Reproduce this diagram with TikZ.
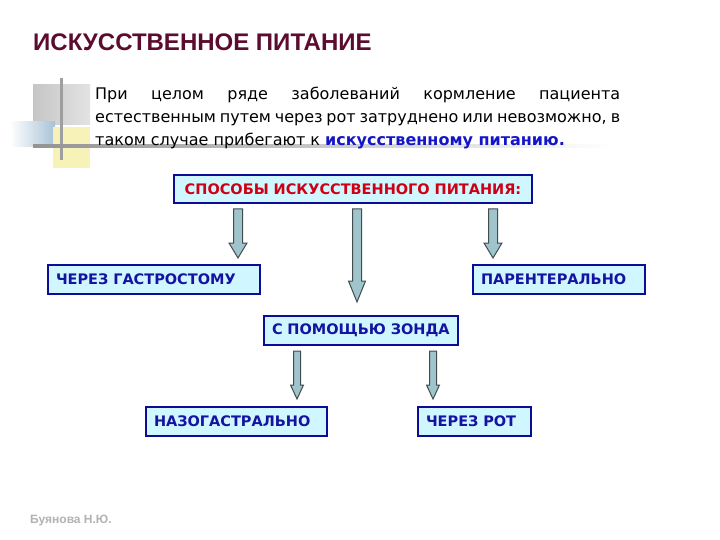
\documentclass[tikz,border=0pt]{standalone}
\usepackage{fontspec}
\setmainfont{Liberation Sans}
\newfontfamily\boxfont{DejaVu Sans}
\usetikzlibrary{calc}

\definecolor{titlered}{RGB}{92,12,46}
\definecolor{introblue}{RGB}{20,20,200}
\definecolor{waysred}{RGB}{205,0,20}
\definecolor{boxtext}{RGB}{20,20,160}
\definecolor{boxline}{RGB}{12,12,150}
\definecolor{boxfill}{RGB}{208,246,255}
\definecolor{arrfill}{RGB}{160,196,204}
\definecolor{arrline}{RGB}{65,75,80}
\definecolor{decoblue}{RGB}{168,194,214}
\definecolor{decoyellow}{RGB}{246,242,184}

\begin{document}
\begin{tikzpicture}[x=1pt, y=-1pt,
  %% ── Node styles ──────────────────────────────────────────────────────────
  %% box : fixed size via text width, text left, 2pt blue frame
  box/.style={draw=boxline, fill=boxfill, line width=2pt, anchor=north west,
              minimum height=29pt, inner xsep=8pt, inner ysep=0pt,
              text width=#1, align=left, text=boxtext,
              font=\boxfont\bfseries\fontsize{14.5}{16}\selectfont},
  waysbox/.style={box=#1, align=center, text=waysred, minimum height=28pt},
  %% ── Arrow styles ─────────────────────────────────────────────────────────
  %% blockarr={shaft half}{head half}{head length}{gap at tip}
  blockarr/.style n args={4}{draw=arrline, fill=arrfill, line width=1pt,
    line join=miter,
    to path={let \p1=(\tikztostart), \p2=(\tikztotarget) in
      (\x1-#1,\y1-5pt) -- (\x1-#1,\y2+#4+#3) -- (\x1-#2,\y2+#4+#3)
      -- (\x1,\y2+#4) -- (\x1+#2,\y2+#4+#3) -- (\x1+#1,\y2+#4+#3)
      -- (\x1+#1,\y1-5pt) -- cycle}}
]

\fill[white] (0,0) rectangle (720,540);
\useasboundingbox (0,0) rectangle (720,540);

%% ── Corner ornament ─────────────────────────────────────────────────────────
\shade[left color=gray!45, right color=gray!22] (33,85) rectangle (90,125);
\shade[left color=white, right color=decoblue] (10,122) rectangle (55,147);
\fill[decoyellow] (53,127) rectangle (90,168);
\fill[gray!75] (60,78) rectangle (62.5,160);
\shade[left color=gray!85, right color=white] (33,145) rectangle (612,147.5);

%% ── Heading and intro text ──────────────────────────────────────────────────
\node[anchor=base west, inner sep=0pt, text=titlered,
      font=\bfseries\fontsize{24}{24}\selectfont] (title) at (33,51)
      {ИСКУССТВЕННОЕ ПИТАНИЕ};
\node[anchor=north west, inner sep=0pt, text width=525pt, align=justify,
      font=\boxfont\fontsize{16}{23}\selectfont] (intro) at (95,87)
      {При целом ряде заболеваний кормление пациента\linebreak
       естественным путем через рот затруднено или невозможно, в\linebreak
       таком случае прибегают к {\bfseries\color{introblue}искусственному питанию.}};

%% ── Boxes ───────────────────────────────────────────────────────────────────
\node[waysbox=342pt] (ways)   at (173,174) {СПОСОБЫ ИСКУССТВЕННОГО ПИТАНИЯ:};
\node[box=196pt]     (gastro) at (47,264)  {ЧЕРЕЗ ГАСТРОСТОМУ};
\node[box=156pt]     (parent) at (472,264) {ПАРЕНТЕРАЛЬНО};
\node[box=178pt]     (probe)  at (263,315) {С ПОМОЩЬЮ ЗОНДА};
\node[box=165pt]     (naso)   at (145,406) {НАЗОГАСТРАЛЬНО};
\node[box=97pt]      (mouth)  at (417,406) {ЧЕРЕЗ РОТ};

%% ── Arrow columns ───────────────────────────────────────────────────────────
\coordinate (a1) at (238,0);
\coordinate (a2) at (357,0);
\coordinate (a3) at (493,0);
\coordinate (a4) at (297,0);
\coordinate (a5) at (433,0);

%% ── Arrows: ways → methods ──────────────────────────────────────────────────
\path[blockarr={4.5pt}{9pt}{15pt}{6pt}]    (ways.south -| a1) to (gastro.north -| a1);
\path[blockarr={4.5pt}{8.5pt}{21pt}{13pt}] (ways.south -| a2) to (probe.north -| a2);
\path[blockarr={4.5pt}{9pt}{15pt}{6pt}]    (ways.south -| a3) to (parent.north -| a3);

%% ── Arrows: probe → variants ────────────────────────────────────────────────
\path[blockarr={3.5pt}{6.5pt}{14pt}{7pt}]  (probe.south -| a4) to (naso.north -| a4);
\path[blockarr={3.5pt}{6.5pt}{14pt}{7pt}]  (probe.south -| a5) to (mouth.north -| a5);

%% ── Author ──────────────────────────────────────────────────────────────────
\node[anchor=base west, inner sep=0pt, text=gray!60,
      font=\bfseries\fontsize{12}{12}\selectfont] (author) at (30,523)
      {Буянова Н.Ю.};

\end{tikzpicture}
\end{document}
